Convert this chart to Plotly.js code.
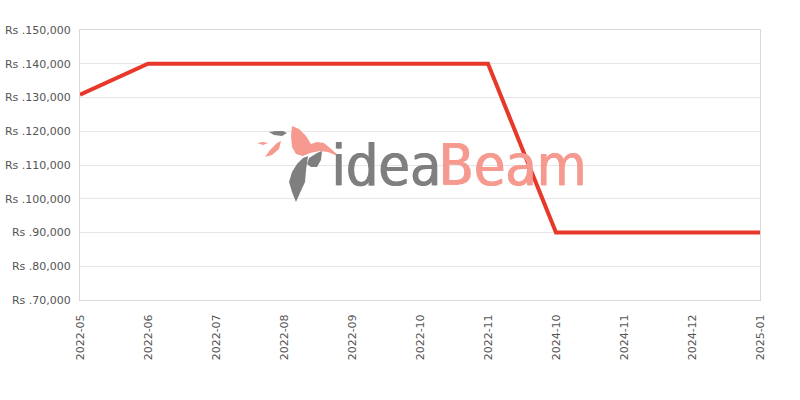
<!DOCTYPE html>
<html>
<head>
<meta charset="utf-8">
<script src="https://cdn.plot.ly/plotly-3.0.1.min.js"></script>
<style>html,body{margin:0;padding:0;background:#fff;}#chart{width:800px;height:400px;}</style>
</head>
<body>
<div id="chart"></div>
<script>
var months = ["2022-05","2022-06","2022-07","2022-08","2022-09","2022-10","2022-11","2024-10","2024-11","2024-12","2025-01"];
var prices = [130800,140000,140000,140000,140000,140000,140000,90000,90000,90000,90000];
var yTicks = [70000,80000,90000,100000,110000,120000,130000,140000,150000];

// watermark logo helpers (decoration only, pixel -> paper)
function P(pts){
  return pts.map(function(p,i){
    var x = ((p[0]-80)/680).toFixed(4), y = ((300-p[1])/270).toFixed(4);
    return (i===0?"M":"L")+x+","+y;
  }).join(" ")+" Z";
}
var logoShapes = [
  {path: P([[292,126],[299,129],[306,136],[311,144],[317,142],[324,143],[330,148],[340,157],[328,152],[320,151],[310,153],[303,156],[296,154],[292,147],[291,136]]), color: "#f69a90"},
  {path: P([[257,143],[263,142],[268,143],[263,145]]), color: "#f69a90"},
  {path: P([[265,157],[270,150],[277,143],[281,141],[279,149],[272,155]]), color: "#f69a90"},
  {path: P([[269,132],[276,131],[283,131],[287,133],[282,136],[274,135]]), color: "#7f7f7f"},
  {path: P([[303,158],[308,156],[306,170],[305,182],[300,193],[296,202],[292,192],[289,182],[292,172],[297,164]]), color: "#7f7f7f"},
  {path: P([[309,158],[317,153],[322,151],[321,160],[317,167],[311,167],[307,164]]), color: "#7f7f7f"}
].map(function(s){
  return {type: "path", xref: "paper", yref: "paper", path: s.path, fillcolor: s.color, line: {width: 0}, layer: "above"};
});

var trace = {
  x: months, y: prices, type: "scatter", mode: "lines",
  line: {color: "#e8382a", width: 4},
  hoverinfo: "x+y"
};

var layout = {
  width: 800, height: 400,
  margin: {l: 80, r: 40, t: 30, b: 100},
  paper_bgcolor: "#fff", plot_bgcolor: "#fff",
  font: {family: "DejaVu Sans, sans-serif", size: 11, color: "#555"},
  showlegend: false,
  xaxis: {
    type: "category", range: [0, months.length - 1],
    tickangle: -90, showgrid: false, zeroline: false,
    showline: true, mirror: true, linecolor: "#d9d9d9", linewidth: 1,
    ticks: "", ticklabelstandoff: 9, tickfont: {size: 11, color: "#555"}
  },
  yaxis: {
    range: [70000, 150000], tickvals: yTicks,
    ticktext: yTicks.map(function(v){ return "Rs ." + v.toLocaleString("en-US"); }),
    showgrid: true, gridcolor: "#e6e6e6", zeroline: false,
    showline: true, mirror: true, linecolor: "#d9d9d9", linewidth: 1,
    ticks: "", ticklabelstandoff: 6, tickfont: {size: 11, color: "#555"}
  },
  shapes: logoShapes,
  annotations: [{
    xref: "paper", yref: "paper", x: 0.366, y: 0.5, xanchor: "left", yanchor: "middle",
    text: "idea", showarrow: false,
    font: {family: "DejaVu Sans Condensed, sans-serif", size: 57, color: "#7f7f7f", shadow: "1.2px 0px 0px #7f7f7f"}
  }, {
    xref: "paper", yref: "paper", x: 0.524, y: 0.5, xanchor: "left", yanchor: "middle",
    text: "Beam", showarrow: false,
    font: {family: "DejaVu Sans Condensed, sans-serif", size: 57, color: "#f69a90", shadow: "1.2px 0px 0px #f69a90"}
  }]
};

Plotly.newPlot("chart", [trace], layout, {displayModeBar: false, staticPlot: true});
</script>
</body>
</html>
